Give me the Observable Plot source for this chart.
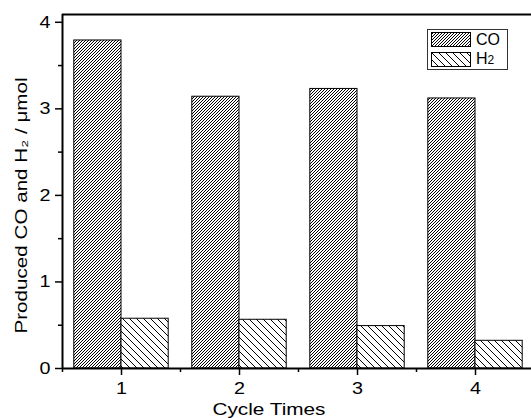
<!DOCTYPE html>
<html>
<head>
<meta charset="utf-8">
<script src="https://cdn.jsdelivr.net/npm/d3@7"></script>
<script src="https://cdn.jsdelivr.net/npm/@observablehq/plot@0.6"></script>
<style>
  html, body { margin: 0; padding: 0; background: #fff; }
  #wrap { position: relative; width: 531px; height: 418px; }
  #legend {
    position: absolute; left: 427px; top: 29px; width: 81px; height: 41px;
    border: 1px solid #333; box-sizing: border-box; background: #fff;
    font-family: "Liberation Sans", Arial, sans-serif; font-size: 16px; color: #000;
  }
  .row { position: absolute; left: 3px; height: 15px; display: flex; align-items: center; }
  .row svg { display: block; }
  .row span { margin-left: 5px; line-height: 15px; }
</style>
</head>
<body>
<svg width="0" height="0" style="position:absolute">
  <defs>
    <pattern id="coHatch" patternUnits="userSpaceOnUse" width="3" height="3">
      <rect width="3" height="3" fill="#fff"/>
      <g shape-rendering="crispEdges" fill="#000">
        <rect x="0" y="2" width="1" height="1"/>
        <rect x="1" y="1" width="1" height="1"/>
        <rect x="2" y="0" width="1" height="1"/>
      </g>
    </pattern>
    <pattern id="h2Hatch" patternUnits="userSpaceOnUse" width="7" height="7">
      <rect width="7" height="7" fill="#fff"/>
      <g shape-rendering="crispEdges" fill="#000">
        <rect x="0" y="0" width="1" height="1"/>
        <rect x="1" y="1" width="1" height="1"/>
        <rect x="2" y="2" width="1" height="1"/>
        <rect x="3" y="3" width="1" height="1"/>
        <rect x="4" y="4" width="1" height="1"/>
        <rect x="5" y="5" width="1" height="1"/>
        <rect x="6" y="6" width="1" height="1"/>
      </g>
    </pattern>
  </defs>
</svg>
<div id="wrap">
  <div id="chart"></div>
  <div id="legend">
    <div class="row" style="top:2px"><svg width="40" height="15"><rect x="0.5" y="0.5" width="39" height="14" fill="url(#coHatch)" stroke="#000"/></svg><span>CO</span></div>
    <div class="row" style="top:22px"><svg width="40" height="15"><rect x="0.5" y="0.5" width="39" height="14" fill="url(#h2Hatch)" stroke="#000"/></svg><span>H<span style="font-size:12px;margin:0">2</span></span></div>
  </div>
</div>
<script>
const cycles = [1, 2, 3, 4];
const coValues = [3.79, 3.14, 3.23, 3.12];
const h2Values = [0.575, 0.563, 0.49, 0.32];
const yTicks = [0, 1, 2, 3, 4];
const yMinorTicks = [0.5, 1.5, 2.5, 3.5];
const xTicks = [1, 2, 3, 4];
const xMinorTicks = [0.5, 1.5, 2.5, 3.5, 4.5];
const xLabel = "Cycle Times";
const yLabel = "Produced CO and H\u2082 / \u03bcmol";

const xDomain = [0.5, 4.5];
const yDomain = [0, 4.09];
const barWidth = 0.4;

const co = cycles.map((c, i) => ({c, v: coValues[i]}));
const h2 = cycles.map((c, i) => ({c, v: h2Values[i]}));

const plot = Plot.plot({
  width: 531,
  height: 418,
  marginLeft: 62,
  marginTop: 14,
  marginBottom: 50,
  marginRight: 0,
  style: {fontFamily: "'Liberation Sans', Arial, sans-serif", fontSize: "16px", background: "#fff", color: "#000"},
  x: {domain: xDomain, range: [62, 534]},
  y: {domain: yDomain},
  marks: [
    Plot.rectY(co, {x1: d => d.c - barWidth, x2: d => d.c, y1: 0, y2: "v", fill: "url(#coHatch)", stroke: "#000", strokeWidth: 1}),
    Plot.rectY(h2, {x1: d => d.c, x2: d => d.c + barWidth, y1: 0, y2: "v", fill: "url(#h2Hatch)", stroke: "#000", strokeWidth: 1}),
    Plot.axisY(yTicks, {tickSize: 7, tickPadding: 5, strokeWidth: 1.5, fontSize: 17, tickFormat: d => String(d), label: null}),
    Plot.axisY(yMinorTicks, {tickSize: 4, tickFormat: () => "", strokeWidth: 1.5, label: null}),
    Plot.axisX(xTicks, {tickSize: 7, tickPadding: 6, strokeWidth: 1.5, fontSize: 17, tickFormat: d => String(d), label: null}),
    Plot.axisX(xMinorTicks, {tickSize: 4, tickFormat: () => "", strokeWidth: 1.5, label: null}),
    Plot.ruleY([yDomain[0]], {stroke: "#000", strokeWidth: 2}),
    Plot.ruleY([yDomain[1]], {stroke: "#000", strokeWidth: 2}),
    Plot.ruleX([xDomain[0]], {stroke: "#000", strokeWidth: 2}),
    Plot.text([xLabel], {frameAnchor: "bottom", textAnchor: "middle", dx: -28, dy: 46, lineAnchor: "bottom", fontSize: 17, fill: "#000"}),
    Plot.text([yLabel], {frameAnchor: "left", textAnchor: "middle", dx: -36, dy: 14, rotate: -90, lineAnchor: "bottom", fontSize: 17, fill: "#000"})
  ]
});
// Stretch texts horizontally/along their run as in the reference image
const svg = d3.select(plot.tagName.toLowerCase() === "svg" ? plot : plot.querySelector("svg"));
svg.selectAll("text").each(function() {
  const t = this.textContent;
  const sel = d3.select(this);
  if (t === xLabel) sel.attr("textLength", 113).attr("lengthAdjust", "spacingAndGlyphs");
  else if (t === yLabel) sel.attr("textLength", 256).attr("lengthAdjust", "spacingAndGlyphs");
  else if (/^\d$/.test(t)) sel.attr("textLength", 11).attr("lengthAdjust", "spacingAndGlyphs");
});
document.getElementById("chart").appendChild(plot);
</script>
</body>
</html>
